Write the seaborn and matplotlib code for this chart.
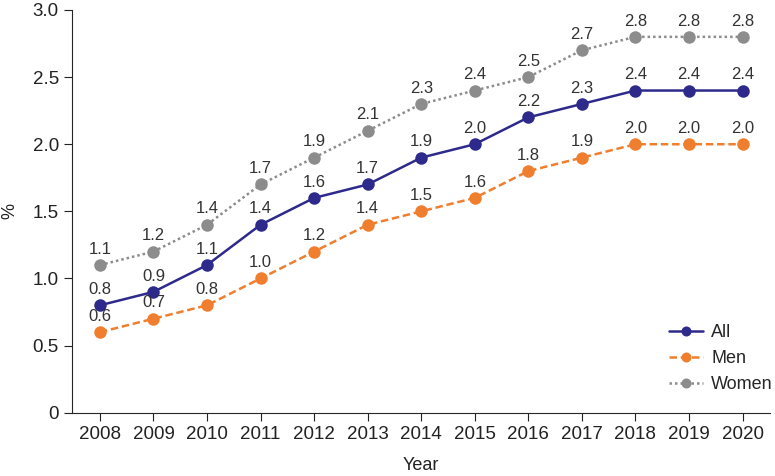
import pandas as pd
import matplotlib.pyplot as plt
import seaborn as sns

years = list(range(2008, 2021))
all_vals = [0.8, 0.9, 1.1, 1.4, 1.6, 1.7, 1.9, 2.0, 2.2, 2.3, 2.4, 2.4, 2.4]
men_vals = [0.6, 0.7, 0.8, 1.0, 1.2, 1.4, 1.5, 1.6, 1.8, 1.9, 2.0, 2.0, 2.0]
women_vals = [1.1, 1.2, 1.4, 1.7, 1.9, 2.1, 2.3, 2.4, 2.5, 2.7, 2.8, 2.8, 2.8]
groups = ["All", "Men", "Women"]

colors = {"All": "#2e2a8c", "Men": "#ef7f2f", "Women": "#8c8c8c"}
dashes = {"All": "", "Men": (3, 1.5), "Women": (1, 1.2)}

# long-form table for seaborn
df = pd.DataFrame({
    "Year": years * 3,
    "Value": all_vals + men_vals + women_vals,
    "Group": [g for g in groups for _ in years],
})

sns.set_style("ticks")
plt.rcParams["font.family"] = ["Liberation Sans", "DejaVu Sans"]

fig = plt.figure(figsize=(7.75, 4.76), dpi=100)
ax = fig.add_axes([0.093, 0.133, 0.901, 0.846])

sns.lineplot(data=df, x="Year", y="Value", hue="Group", style="Group",
             palette=colors, dashes=dashes, markers={g: "o" for g in groups},
             markersize=9, markeredgewidth=0, linewidth=1.8, ax=ax)

# value labels above points
for _, row in df.iterrows():
    ax.annotate(f"{row['Value']:.1f}", (row["Year"], row["Value"]),
                xytext=(0, 6), textcoords="offset points",
                ha="center", va="bottom", fontsize=12, color="#333333")

ax.set_xlim(2007.48, 2020.52)
ax.set_ylim(0, 3.0)
ax.set_xticks(years)
ax.set_yticks([0, 0.5, 1.0, 1.5, 2.0, 2.5, 3.0])
ax.set_yticklabels(["0", "0.5", "1.0", "1.5", "2.0", "2.5", "3.0"])
ax.tick_params(labelsize=13.5, length=6, color="#222222", labelcolor="#222222")
ax.set_xlabel("Year", fontsize=13, color="#222222", labelpad=10)
ax.set_ylabel("%", fontsize=13, color="#222222", labelpad=10)
sns.despine(ax=ax)

leg = ax.legend(title=None, loc="lower right", frameon=False, fontsize=13,
                handlelength=1.9, handletextpad=0.45, labelspacing=0.5,
                markerscale=0.8, borderaxespad=0,
                bbox_to_anchor=(1.014, 0.03))

fig.savefig("out.png", dpi=100)
